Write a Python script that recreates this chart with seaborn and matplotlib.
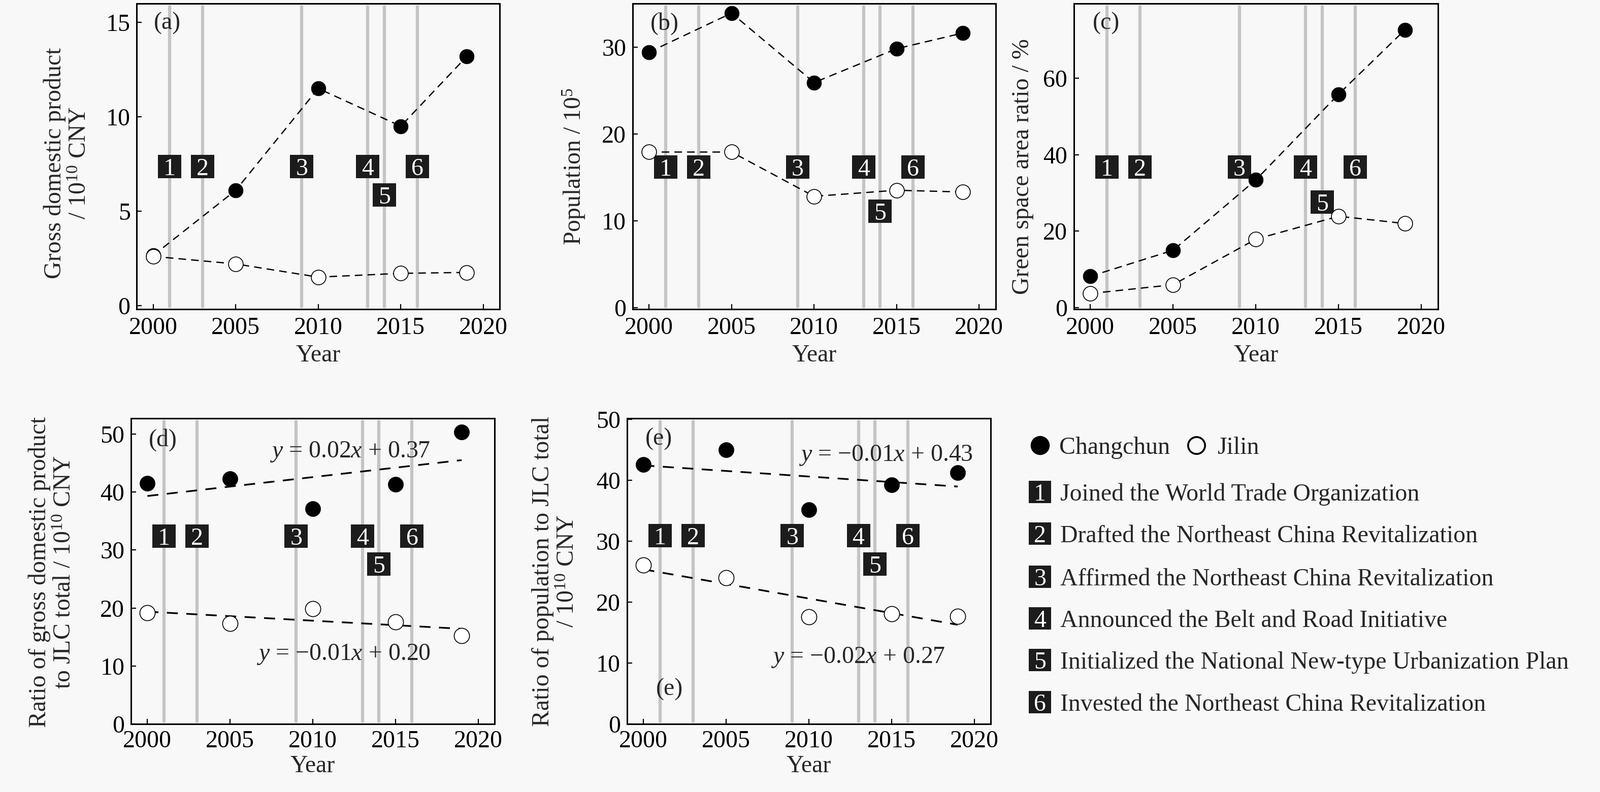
import numpy as np
import pandas as pd
import matplotlib
matplotlib.use("Agg")
import matplotlib.pyplot as plt
import seaborn as sns
from matplotlib.lines import Line2D

# ---------------- data ----------------
years = [2000, 2005, 2010, 2015, 2019]
event_years = [2001, 2003, 2009, 2013, 2014, 2016]
event_ids = ["1", "2", "3", "4", "5", "6"]
event_names = [
    "Joined the World Trade Organization",
    "Drafted the Northeast China Revitalization",
    "Affirmed the Northeast China Revitalization",
    "Announced the Belt and Road Initiative",
    "Initialized the National New-type Urbanization Plan",
    "Invested the Northeast China Revitalization",
]
series_names = ["Changchun", "Jilin"]

gdp_cc = [2.65, 6.1, 11.5, 9.5, 13.2]
gdp_jl = [2.6, 2.2, 1.5, 1.7, 1.75]
pop_cc = [29.4, 33.9, 25.9, 29.8, 31.6]
pop_jl = [17.9, 17.9, 12.8, 13.5, 13.3]
green_cc = [8.2, 15.0, 33.4, 55.8, 72.6]
green_jl = [3.7, 6.0, 17.9, 23.9, 22.0]
gdp_ratio_cc = [41.5, 42.3, 37.1, 41.3, 50.3]
gdp_ratio_jl = [19.2, 17.3, 19.9, 17.6, 15.2]
pop_ratio_cc = [42.6, 45.0, 35.2, 39.3, 41.3]
pop_ratio_jl = [26.1, 24.0, 17.6, 18.1, 17.7]

eq_d = ["$y$ = 0.02$x$ + 0.37", "$y$ = \u22120.01$x$ + 0.20"]
eq_e = ["$y$ = \u22120.01$x$ + 0.43", "$y$ = \u22120.02$x$ + 0.27"]

# ---------------- style ----------------
sns.set_theme(style="ticks")
FS = 34.5
BG = "#f8f8f8"
plt.rcParams["font.family"] = ["Liberation Serif", "DejaVu Serif"]
plt.rcParams["mathtext.fontset"] = "custom"
plt.rcParams["mathtext.rm"] = "Liberation Serif"
plt.rcParams["mathtext.it"] = "Liberation Serif:italic"
plt.rcParams["mathtext.bf"] = "Liberation Serif:bold"
plt.rcParams["font.size"] = FS

fig = plt.figure(figsize=(31.51, 15.6), dpi=100)
fig.patch.set_facecolor(BG)

pos = {
    "a": [0.0854, 0.6096, 0.2270, 0.3859],
    "b": [0.3953, 0.6096, 0.2270, 0.3859],
    "c": [0.6711, 0.6096, 0.2276, 0.3859],
    "d": [0.0818, 0.0859, 0.2274, 0.3859],
    "e": [0.3918, 0.0859, 0.2274, 0.3859],
}
ylims = {"a": (-0.2, 16.0), "b": (-0.2, 35.0), "c": (-0.4, 79.5),
         "d": (0, 52.7), "e": (0, 50.2)}
yticks = {"a": [0, 5, 10, 15], "b": [0, 10, 20, 30], "c": [0, 20, 40, 60],
          "d": [0, 10, 20, 30, 40, 50], "e": [0, 10, 20, 30, 40, 50]}
# vertical level of event number boxes (main row, box 5)
box_levels = {"a": (7.35, 5.85), "b": (16.2, 11.1), "c": (36.8, 27.6),
              "d": (32.4, 27.6), "e": (30.9, 26.3)}
BOXC = "#1c1c1c"
GRAY = "#c4c4c4"


def setup(ax, key):
    top_row = key in ("a", "b", "c")
    ax.set_facecolor(BG)
    ax.set_xlim(1999, 2021)
    ax.set_ylim(*ylims[key])
    ax.set_xticks([2000, 2005, 2010, 2015, 2020])
    ax.set_yticks(yticks[key])
    for s in ax.spines.values():
        s.set_visible(True)
        s.set_color("black")
        s.set_linewidth(2.2)
    ax.tick_params(direction="in", length=7, width=1.6, labelsize=FS, pad=9,
                   colors="black", top=False, right=False)
    ax.tick_params(axis="x", pad=11 if top_row else 9)
    for yr in event_years:
        ax.axvline(yr, ymin=0.008, ymax=0.99, color=GRAY, lw=4.5, zorder=1)
    main_y, low_y = box_levels[key]
    for yr, lab in zip(event_years, event_ids):
        yy = low_y if lab == "5" else main_y
        ax.scatter([yr], [yy], marker="s", s=1050, color=BOXC, linewidths=0, zorder=2)
        ax.text(yr, yy, lab, color="white", ha="center", va="center_baseline",
                fontsize=FS, zorder=2.5)


axes = {k: fig.add_axes(p) for k, p in pos.items()}
for k, ax in axes.items():
    setup(ax, k)

top_data = {"a": (gdp_cc, gdp_jl), "b": (pop_cc, pop_jl), "c": (green_cc, green_jl)}
for k, (cc, jl) in top_data.items():
    ax = axes[k]
    sns.lineplot(x=years, y=cc, ax=ax, color="black", lw=1.8, linestyle=(0, (6, 4)),
                 estimator=None, legend=False, zorder=3)
    sns.lineplot(x=years, y=jl, ax=ax, color="black", lw=1.8, linestyle=(0, (6, 4)),
                 estimator=None, legend=False, zorder=3)
    sns.scatterplot(x=years, y=cc, ax=ax, s=430, color="black", edgecolor="black",
                    linewidth=0.5, legend=False, zorder=4)
    sns.scatterplot(x=years, y=jl, ax=ax, s=430, color="white", edgecolor="black",
                    linewidth=1.2, legend=False, zorder=4)

bot_data = {"d": (gdp_ratio_cc, gdp_ratio_jl), "e": (pop_ratio_cc, pop_ratio_jl)}
for k, (cc, jl) in bot_data.items():
    ax = axes[k]
    for vals in (cc, jl):
        sns.regplot(x=np.array(years, float), y=np.array(vals, float), ax=ax,
                    scatter=False, ci=None, color="black",
                    line_kws=dict(lw=2.4, linestyle=(0, (6.5, 5)), zorder=3))
    sns.scatterplot(x=years, y=cc, ax=ax, s=470, color="black", edgecolor="black",
                    linewidth=0.5, legend=False, zorder=4)
    sns.scatterplot(x=years, y=jl, ax=ax, s=470, color="white", edgecolor="black",
                    linewidth=1.2, legend=False, zorder=4)

for k, ax in axes.items():
    ax.set_xlabel("Year", fontsize=FS, labelpad=7 if k in ("a", "b", "c") else 3)
    ax.set_ylabel("")

# regression equation labels
axes["d"].text(2007.4, 46.9, eq_d[0], ha="left", va="center", fontsize=FS, zorder=5)
axes["d"].text(2006.6, 12.0, eq_d[1], ha="left", va="center", fontsize=FS, zorder=5)
axes["e"].text(2009.4, 44.1, eq_e[0], ha="left", va="center", fontsize=FS, zorder=5)
axes["e"].text(2007.7, 10.9, eq_e[1], ha="left", va="center", fontsize=FS, zorder=5)

# panel labels
for k, (x, y) in {"a": (0.047, 0.935), "b": (0.05, 0.935), "c": (0.052, 0.935),
                  "d": (0.049, 0.929), "e": (0.05, 0.932)}.items():
    axes[k].text(x, y, f"({k})", transform=axes[k].transAxes, ha="left",
                 va="center", fontsize=FS, zorder=5)
axes["e"].text(0.08, 0.113, "(e)", transform=axes["e"].transAxes, ha="left",
               va="center", fontsize=FS, zorder=5)

# y labels
ylabels = [
    (0.0419, 0.7942, "Gross domestic product\n/ 10$^{10}$ CNY"),
    (0.3586, 0.7897, "Population / 10$^{5}$"),
    (0.6392, 0.7897, "Green space area ratio / %"),
    (0.0324, 0.2776, "Ratio of gross domestic product\nto JLC total / 10$^{10}$ CNY"),
    (0.3469, 0.2788, "Ratio of population to JLC total\n/ 10$^{10}$ CNY"),
]
for x, y, t in ylabels:
    fig.text(x, y, t, rotation=90, ha="center", va="center", multialignment="center",
             fontsize=FS, linespacing=1.15)

# legend
fig.add_artist(Line2D([0.6500], [0.4378], transform=fig.transFigure, marker="o",
                      ms=26, mfc="black", mec="black", ls="none"))
fig.text(0.6620, 0.4378, series_names[0], ha="left", va="center_baseline", fontsize=FS)
fig.add_artist(Line2D([0.7477], [0.4378], transform=fig.transFigure, marker="o",
                      ms=24, mfc=BG, mec="black", mew=2.6, ls="none"))
fig.text(0.7610, 0.4378, series_names[1], ha="left", va="center_baseline", fontsize=FS)

row_y = [0.3788, 0.3260, 0.2720, 0.2192, 0.1667, 0.1137]
for yy, lab, name in zip(row_y, event_ids, event_names):
    fig.add_artist(Line2D([0.6500], [yy], transform=fig.transFigure, marker="s",
                          ms=32, mfc=BOXC, mec=BOXC, mew=0, ls="none"))
    fig.text(0.6500, yy, lab, ha="center", va="center_baseline", color="white",
             fontsize=FS)
    fig.text(0.6626, yy, name, ha="left", va="center_baseline", fontsize=FS)

fig.savefig("out.png", dpi=100, facecolor=BG)
